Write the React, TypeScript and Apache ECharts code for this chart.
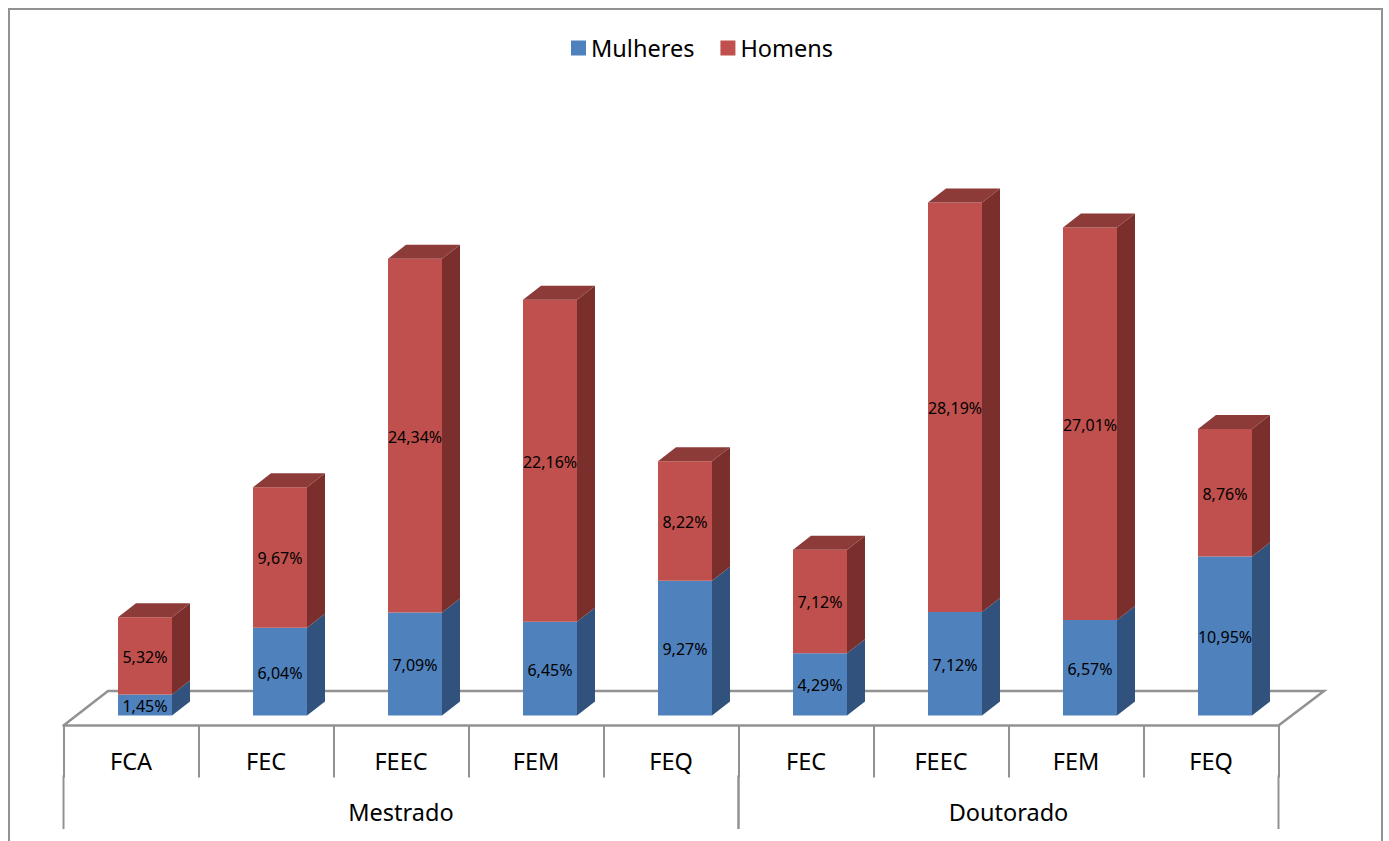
import React, { useEffect, useRef } from "react";
import * as echarts from "echarts";

const categories = ["FCA", "FEC", "FEEC", "FEM", "FEQ", "FEC", "FEEC", "FEM", "FEQ"];
const mulheres = [1.45, 6.04, 7.09, 6.45, 9.27, 4.29, 7.12, 6.57, 10.95];
const homens = [5.32, 9.67, 24.34, 22.16, 8.22, 7.12, 28.19, 27.01, 8.76];
const groups: [number, number, string][] = [
  [0, 5, "Mestrado"],
  [5, 4, "Doutorado"],
];

const FONT = "Noto Sans";
const GRAY = "#929292";
const BAR_W = 54;
const BAR_SHIFT = 14;
const DX = 18;
const DY = -14;

const fmt = (v: number) => v.toFixed(2).replace(".", ",") + "%";

function barSeries(
  name: string,
  values: number[],
  bases: number[],
  front: string,
  side: string,
  top: string | null
) {
  return {
    type: "custom",
    name,
    xAxisIndex: 0,
    yAxisIndex: 0,
    z: top ? 4 : 3,
    silent: true,
    itemStyle: { color: front },
    encode: { x: 0, y: 1 },
    data: values.map((v, i) => [i, v, bases[i]]),
    renderItem: (_: any, api: any) => {
      const idx = api.value(0);
      const val = api.value(1);
      const base = api.value(2);
      const cx = api.coord([idx, 0])[0] + BAR_SHIFT;
      const y0 = api.coord([idx, base])[1];
      const y1 = api.coord([idx, base + val])[1];
      const xl = cx - BAR_W / 2;
      const xr = cx + BAR_W / 2;
      const children: any[] = [
        {
          type: "polygon",
          shape: { points: [[xr, y0], [xr + DX, y0 + DY], [xr + DX, y1 + DY], [xr, y1]] },
          style: { fill: side },
        },
        {
          type: "polygon",
          shape: { points: [[xl, y0], [xr, y0], [xr, y1], [xl, y1]] },
          style: { fill: front },
        },
      ];
      if (top) {
        children.push({
          type: "polygon",
          shape: { points: [[xl, y1], [xr, y1], [xr + DX, y1 + DY], [xl + DX, y1 + DY]] },
          style: { fill: top },
        });
      }
      children.push({
        type: "text",
        style: {
          text: fmt(val),
          x: cx,
          y: (y0 + y1) / 2 + 1,
          align: "center",
          verticalAlign: "middle",
          fontFamily: FONT,
          fontSize: 16,
          fill: "#000",
        },
      });
      return { type: "group", children };
    },
  };
}

export default function App() {
  const ref = useRef<HTMLDivElement>(null);
  useEffect(() => {
    document.body.style.margin = "0";
    const chart = echarts.init(ref.current!, null, { renderer: "svg" });
    chart.setOption({
      animation: false,
      backgroundColor: "#fff",
      grid: { left: 63.5, width: 1215, top: 134.3, height: 591.2 },
      legend: {
        data: [
          { name: "Mulheres", icon: "rect" },
          { name: "Homens", icon: "rect" },
        ],
        left: 566,
        top: 31,
        itemWidth: 15,
        itemHeight: 15,
        itemGap: 26,
        textStyle: { fontFamily: FONT, fontSize: 23.5, color: "#000" },
      },
      xAxis: {
        type: "category",
        data: categories,
        position: "bottom",
        boundaryGap: true,
        axisLine: { show: true, onZero: false, lineStyle: { color: GRAY, width: 2.5 } },
        axisTick: { show: true, length: 52, lineStyle: { color: GRAY, width: 2 } },
        axisLabel: { interval: 0, margin: 23, fontFamily: FONT, fontSize: 23.5, color: "#000" },
      },
      yAxis: { type: "value", min: -0.688, max: 40, show: false },
      graphic: [
        {
          type: "polyline",
          silent: true,
          z: 0,
          shape: { points: [[9, 841], [9, 9], [1382, 9], [1382, 841]] },
          style: { stroke: GRAY, lineWidth: 2, fill: "none" },
        },
        {
          type: "polyline",
          silent: true,
          z: 0,
          shape: { points: [[63.5, 725.5], [108, 691], [1324, 691], [1278.5, 725.5]] },
          style: { stroke: GRAY, lineWidth: 2.5, fill: "none" },
        },
      ],
      series: [
        {
          type: "custom",
          name: "grupos",
          silent: true,
          z: 1,
          data: groups,
          encode: { x: 0, y: 1 },
          dimensions: [{ name: "start", type: "number" }, { name: "count", type: "number" }, { name: "label", type: "ordinal" }],
          renderItem: (params: any, api: any) => {
            const g = groups[params.dataIndex];
            const band = api.size([1, 0])[0];
            const base = api.coord([g[0], 0]);
            const left = base[0] - band / 2;
            const right = left + band * g[1];
            const y = base[1];
            const line = (x: number) => ({
              type: "line",
              shape: { x1: x, y1: y + 60, x2: x, y2: y + 113.5 },
              style: { stroke: GRAY, lineWidth: 2 },
            });
            return {
              type: "group",
              children: [
                line(left),
                line(right),
                {
                  type: "text",
                  style: {
                    text: g[2],
                    x: (left + right) / 2,
                    y: y + 96,
                    align: "center",
                    verticalAlign: "middle",
                    fontFamily: FONT,
                    fontSize: 23.5,
                    fill: "#000",
                  },
                },
              ],
            };
          },
        },
        barSeries("Mulheres", mulheres, mulheres.map(() => 0), "#4f81bd", "#30527c", null),
        barSeries("Homens", homens, mulheres, "#c0504d", "#7a2f2d", "#8c3b39"),
      ],
    });
    return () => chart.dispose();
  }, []);
  return <div ref={ref} style={{ position: "absolute", left: 0, top: 0, width: 1389, height: 841 }} />;
}
